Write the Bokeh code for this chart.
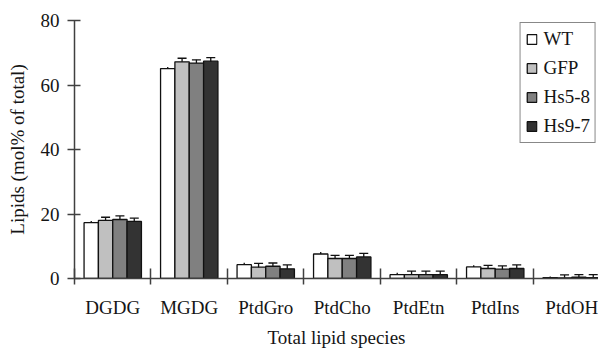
from bokeh.plotting import figure
from bokeh.models import (ColumnDataSource, LinearAxis, FixedTicker, Whisker, TeeHead,
                          Range1d, Legend, LegendItem)
from bokeh.embed import file_html
from bokeh.resources import INLINE

categories = ["DGDG", "MGDG", "PtdGro", "PtdCho", "PtdEtn", "PtdIns", "PtdOH"]
series = ["WT", "GFP", "Hs5-8", "Hs9-7"]
colors = ["#ffffff", "#c0c0c0", "#808080", "#333333"]
wt = [17.3, 65.1, 4.3, 7.6, 1.2, 3.6, 0.3]
gfp = [18.0, 67.2, 3.5, 6.2, 1.2, 3.1, 0.2]
hs58 = [18.3, 66.8, 3.8, 6.2, 1.2, 2.9, 0.4]
hs97 = [17.7, 67.4, 3.0, 6.7, 1.2, 3.1, 0.3]
wt_err = [0.5, 0.5, 0.6, 0.6, 0.6, 0.5, 0.3]
gfp_err = [1.0, 1.1, 1.2, 1.0, 1.1, 1.0, 0.9]
hs58_err = [1.1, 1.0, 1.0, 1.0, 1.1, 1.0, 0.8]
hs97_err = [1.0, 1.1, 1.2, 1.1, 1.1, 1.1, 0.9]
values = [wt, gfp, hs58, hs97]
errors = [wt_err, gfp_err, hs58_err, hs97_err]
y_ticks = [0, 20, 40, 60, 80]

FONT = "Liberation Serif"
AX = "#404040"
TXT = "#151515"

p = figure(width=598, height=350, output_backend="svg", toolbar_location=None,
           x_range=Range1d(0, 6.85), y_range=Range1d(0, 80),
           x_axis_location=None, y_axis_location=None,
           min_border_left=74, min_border_right=0, min_border_top=20, min_border_bottom=30)
p.outline_line_color = None
p.xgrid.visible = False
p.ygrid.visible = False
p.background_fill_color = "white"

# y axis
ya = LinearAxis(ticker=FixedTicker(ticks=y_ticks), axis_label="Lipids (mol% of total)")
ya.axis_line_color = AX
ya.axis_line_width = 1.5
ya.major_tick_line_color = AX
ya.major_tick_line_width = 1.5
ya.major_tick_in = 6
ya.major_tick_out = 7
ya.minor_tick_line_color = None
ya.major_label_text_font = FONT
ya.major_label_text_font_size = "19px"
ya.major_label_text_color = TXT
ya.major_label_standoff = 8
ya.axis_label_text_font = FONT
ya.axis_label_text_font_size = "19px"
ya.axis_label_text_font_style = "normal"
ya.axis_label_text_color = TXT
ya.axis_label_standoff = 10
p.add_layout(ya, "left")

# x axis: ticks at category boundaries
xa1 = LinearAxis(ticker=FixedTicker(ticks=list(range(0, len(categories)))))
xa1.axis_line_color = AX
xa1.axis_line_width = 1.5
xa1.major_tick_line_color = AX
xa1.major_tick_line_width = 1.5
xa1.major_tick_in = 10
xa1.major_tick_out = 6
xa1.minor_tick_line_color = None
xa1.major_label_overrides = {i: "" for i in range(len(categories))}
xa1.major_label_text_font_size = "1px"
xa1.major_label_standoff = 0
p.add_layout(xa1, "below")

# x axis: category labels at centers
centers = [i + 0.5 for i in range(len(categories))]
xa2 = LinearAxis(ticker=FixedTicker(ticks=centers), axis_label="Total lipid species")
xa2.major_label_overrides = {c: n for c, n in zip(centers, categories)}
xa2.axis_line_color = None
xa2.major_tick_line_color = None
xa2.minor_tick_line_color = None
xa2.major_label_text_font = FONT
xa2.major_label_text_font_size = "19px"
xa2.major_label_text_color = TXT
xa2.major_label_standoff = 6
xa2.axis_label_text_font = FONT
xa2.axis_label_text_font_size = "19px"
xa2.axis_label_text_font_style = "normal"
xa2.axis_label_text_color = TXT
xa2.axis_label_standoff = 6
p.add_layout(xa2, "below")

group_w = 0.75
bar_w = group_w / len(series)
items = []
for k, (name, col, vals, errs) in enumerate(zip(series, colors, values, errors)):
    off = -group_w / 2 + bar_w * (k + 0.5)
    xs = [c + off for c in centers]
    src = ColumnDataSource(dict(x=xs, top=vals,
                                upper=[v + e for v, e in zip(vals, errs)],
                                lower=[v - e for v, e in zip(vals, errs)]))
    r = p.vbar(x="x", top="top", width=bar_w, bottom=0, source=src,
               fill_color=col, line_color="#111111", line_width=1.3)
    items.append(LegendItem(label=name, renderers=[r]))
    head = 0 if k == 0 else 9
    w = Whisker(base="x", upper="upper", lower="lower", source=src,
                line_color="#111111", line_width=1.3,
                upper_head=TeeHead(size=head, line_color="#111111", line_width=1.3),
                lower_head=TeeHead(size=head, line_color="#111111", line_width=1.3))
    p.add_layout(w)

legend = Legend(items=items, location="top_right")
legend.border_line_color = "#111111"
legend.border_line_width = 1
legend.label_text_font = FONT
legend.label_text_font_size = "19px"
legend.label_text_color = TXT
legend.glyph_width = 12
legend.glyph_height = 12
legend.label_standoff = 6
legend.label_height = 20
legend.spacing = 7
legend.padding = 5
legend.margin = 2
legend.background_fill_alpha = 1
p.add_layout(legend, "center")

open("out.html", "w").write(file_html(p, INLINE))
